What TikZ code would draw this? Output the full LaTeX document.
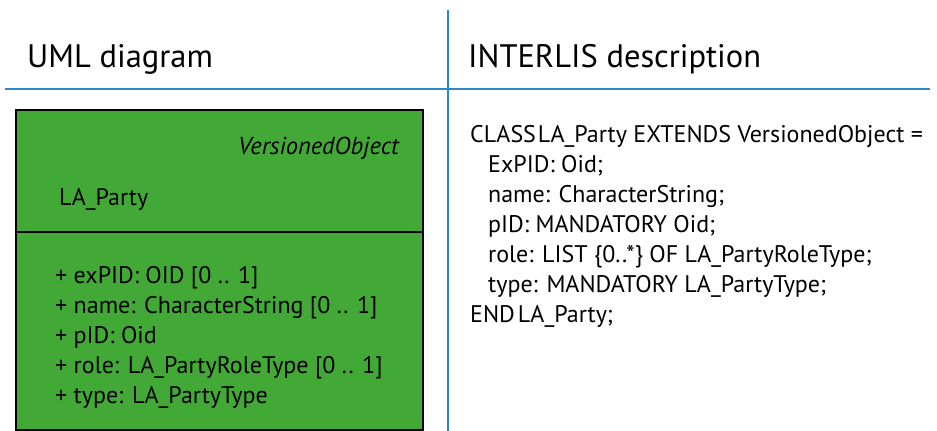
\documentclass[tikz,border=0pt]{standalone}
\usepackage{fontspec}
\setmainfont{PT Sans}
\definecolor{umlgreen}{RGB}{67,169,54}
\definecolor{lineblue}{RGB}{46,134,200}
\begin{document}
\begin{tikzpicture}[x=1pt,y=-1pt,
  sep/.style={draw=lineblue,line width=2pt},
  head/.style={anchor=base west,inner sep=0pt,font=\fontsize{32.5}{38}\selectfont},
  txt/.style={anchor=base west,inner sep=0pt,font=\fontsize{24}{30}\selectfont},
  classbox/.style={draw=black,line width=2.5pt,fill=umlgreen}]
\useasboundingbox (0,0) rectangle (937,431);
\coordinate (vtop) at (448,10);
\coordinate (vbot) at (448,431);
\coordinate (hl) at (5,89);
\coordinate (hr) at (930,89);
\draw[sep] (vtop) -- (vbot);
\draw[sep] (hl) -- (hr);
\node[head] (uml) at (27,67) {UML diagram};
\node[head] (ili) at (468,67) {INTERLIS description};
% class box
\draw[classbox] (16,110) rectangle (423,430);
\coordinate (dl) at (16,232);
\coordinate (dr) at (423,232);
\draw[black,line width=2.5pt] (dl) -- (dr);
\node[txt,anchor=base east,font=\fontsize{24.5}{30}\selectfont\itshape] (super) at (399,154) {VersionedObject};
\node[txt] (cname) at (59,205) {LA\_Party};
\node[txt] (a1) at (55,283) {+ exPID: OID [0 .. 1]};
\node[txt] (a2) at (55,313) {+ name: CharacterString [0 .. 1]};
\node[txt] (a3) at (55,343) {+ pID: Oid};
\node[txt] (a4) at (55,373) {+ role: LA\_PartyRoleType [0 .. 1]};
\node[txt] (a5) at (55,403) {+ type: LA\_PartyType};
% INTERLIS
\node[txt] (i1) at (470,142) {CLASS\kern2pt LA\_Party EXTENDS VersionedObject =};
\node[txt] (i2) at (488,172) {ExPID: Oid;};
\node[txt] (i3) at (488,202) {name: CharacterString;};
\node[txt] (i4) at (488,232) {pID: MANDATORY Oid;};
\node[txt] (i5) at (488,262) {role: LIST \{0..*\} OF LA\_PartyRoleType;};
\node[txt] (i6) at (488,292) {type: MANDATORY LA\_PartyType;};
\node[txt] (i7) at (470,322) {END\kern3pt LA\_Party;};
\end{tikzpicture}
\end{document}
